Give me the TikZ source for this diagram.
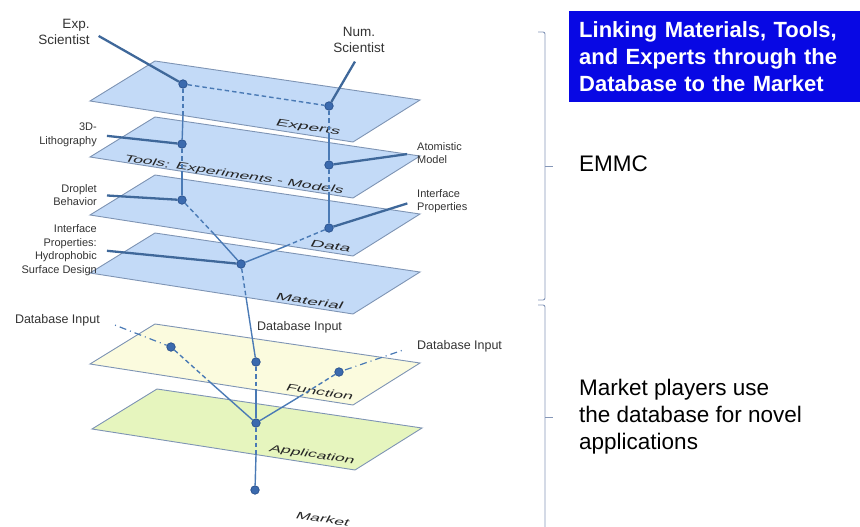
\documentclass[tikz,border=0pt]{standalone}
\usepackage{fontspec}
\setmainfont{Liberation Sans}
\definecolor{planeblue}{RGB}{195,218,247}
\definecolor{planeyellow}{RGB}{251,251,222}
\definecolor{planegreen}{RGB}{230,245,190}
\definecolor{planeedge}{RGB}{126,148,180}
\definecolor{linkblue}{RGB}{74,122,181}
\definecolor{dotblue}{RGB}{59,106,174}
\definecolor{dotedge}{RGB}{40,80,140}
\definecolor{titleblue}{RGB}{8,8,228}
\definecolor{bracegray}{RGB}{133,151,184}
\newcommand{\layer}[3]{\draw[plane, fill=#3] (#1,#2) -- ++(265,39) -- ++(-67,42) -- ++(-263,-41) -- cycle;}
\newcommand{\dbin}{Database Input}

\begin{document}
\begin{tikzpicture}[x=1pt, y=-1pt,
    plane/.style={draw=planeedge, line width=0.9pt},
    dot/.style={circle, fill=dotblue, draw=dotedge, line width=0.7pt, inner sep=0pt, minimum size=8.5pt},
    link/.style={draw=linkblue, line width=1.4pt},
    hidden/.style={link, dash pattern=on 4.5pt off 3pt},
    feed/.style={draw=linkblue!85!black, line width=2.3pt, shorten <=8pt},
    entry/.style={draw=linkblue, line width=1.2pt, dash pattern=on 1pt off 4pt on 7pt off 4pt, shorten <=14pt},
    lbl/.style={font=\fontsize{11}{13.5}\selectfont, text=black!80, inner sep=2pt},
    dblbl/.style={lbl, font=\fontsize{12.5}{15}\selectfont},
    tag/.style={font=\fontsize{10}{12}\selectfont, text=black!85, inner sep=0pt, rotate=-8.5, xslant=0.35, xscale=1.9},
    side/.style={font=\fontsize{22.5}{27}\selectfont, align=left, anchor=west, inner sep=0pt},
    brace/.style={draw=bracegray, line width=0.9pt, rounded corners=2pt}]

\useasboundingbox (0,0) rectangle (860,527);

% layers
\layer{155}{61}{planeblue}
\layer{155}{117}{planeblue}
\layer{155}{175}{planeblue}
\layer{155}{233}{planeblue}
\layer{155}{324}{planeyellow}
\layer{157}{389}{planegreen}

% layer names
\node[tag] (tExperts) at (308,128) {Experts};
\node[tag, xscale=0.92] (tTools) at (234,175) {Tools: Experiments - Models};
\node[tag] (tData) at (331,246) {Data};
\node[tag] (tMaterial) at (310,301) {Material};
\node[tag, xscale=0.92] (tFunction) at (320,392) {Function};
\node[tag, xscale=0.92] (tApplication) at (312,455) {Application};
\node[tag, xscale=0.92] (tMarket) at (323,519) {Market};

% points on the layers
\node[dot] (dExp) at (183,84) {};
\node[dot] (dNum) at (329,106) {};
\node[dot] (dLitho) at (182,144) {};
\node[dot] (dAtom) at (329,165) {};
\node[dot] (dDrop) at (182,200) {};
\node[dot] (dIf) at (329,228) {};
\node[dot] (dMat) at (241,264) {};
\node[dot] (dFl) at (171,347) {};
\node[dot] (dFm) at (256,362) {};
\node[dot] (dFr) at (339,372) {};
\node[dot] (dApp) at (256,423) {};
\node[dot] (dMkt) at (255,490) {};

% where the links leave a layer
\coordinate (x1) at (183,115);
\coordinate (x2) at (329,138);
\coordinate (x3) at (182,172);
\coordinate (x4) at (329,195);
\coordinate (x5) at (214,234);
\coordinate (x6) at (286,246);
\coordinate (x7) at (246,297);
\coordinate (x8) at (256,390);
\coordinate (x9) at (211,383);
\coordinate (x10) at (299,397);
\coordinate (x11) at (256,455);

\path (dExp) edge[hidden] (dNum)
    (dExp) edge[hidden] (x1) (x1) edge[link] (dLitho)
    (dNum) edge[hidden] (x2) (x2) edge[link] (dAtom)
    (dLitho) edge[hidden] (x3) (x3) edge[link] (dDrop)
    (dAtom) edge[hidden] (x4) (x4) edge[link] (dIf)
    (dDrop) edge[hidden] (x5) (x5) edge[link] (dMat)
    (dIf) edge[hidden] (x6) (x6) edge[link] (dMat)
    (dMat) edge[hidden] (x7) (x7) edge[link] (dFm)
    (dFm) edge[hidden] (x8) (x8) edge[link] (dApp)
    (dFl) edge[hidden] (x9) (x9) edge[link] (dApp)
    (dFr) edge[hidden] (x10) (x10) edge[link] (dApp)
    (dApp) edge[hidden] (x11) (x11) edge[link] (dMkt);

% labels
\node[lbl, align=right, font=\fontsize{13.5}{16}\selectfont] (expsci) at (64,32) {Exp.\\Scientist};
\node[lbl, align=center, font=\fontsize{13.5}{15.5}\selectfont] (numsci) at (359,40) {Num.\\Scientist};
\node[lbl, align=right, anchor=east] (litho) at (99,135) {3D-\\Lithography};
\node[lbl, align=left, anchor=west] (atom) at (415,153) {Atomistic\\Model};
\node[lbl, align=right, anchor=east] (droplet) at (99,195) {Droplet\\Behavior};
\node[lbl, align=left, anchor=west] (ifprop) at (415,201) {Interface\\Properties};
\node[lbl, align=right, anchor=east] (hydro) at (99,250) {Interface\\Properties:\\Hydrophobic\\Surface Design};
\node[dblbl, anchor=east] (dbleft) at (102,320) {\dbin};
\node[dblbl, anchor=west] (dbmid) at (255,327) {\dbin};
\node[dblbl, anchor=west] (dbright) at (415,346) {\dbin};

\path (expsci.east) edge[feed] (dExp)
    (numsci.south) edge[feed] (dNum)
    (litho.east) edge[feed] (dLitho)
    (atom.west) edge[feed] (dAtom)
    (droplet.east) edge[feed] (dDrop)
    (ifprop.west) edge[feed] (dIf)
    (hydro.east) edge[feed] (dMat);
\path (dbleft.east) edge[entry] (dFl)
    (dbright.west) edge[entry] (dFr);

% right column
\node[fill=titleblue, text=white, font=\bfseries\fontsize{22}{27}\selectfont, align=left,
    text width=271pt, inner xsep=10pt, minimum height=91pt, anchor=north west] (title) at (569,11)
    {Linking Materials, Tools,\\and Experts through the\\Database to the Market};
\node[side] (emmc) at (579,164) {EMMC};
\node[side] (players) at (579,417) {Market players use\\the database for novel\\applications};

\draw[brace] (538,32) -| (545,300) -- (538,300);
\draw[brace] (545,166) -- (553,166);
\draw[brace] (538,305) -| (545,535);
\draw[brace] (545,417) -- (553,417);
\end{tikzpicture}
\end{document}
